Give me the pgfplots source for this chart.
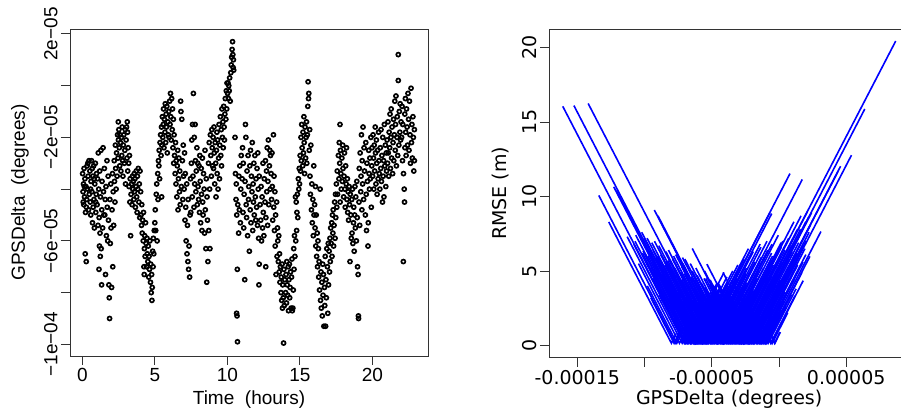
\documentclass[border=0pt]{standalone}
\usepackage{fontspec}
\setmainfont{Liberation Sans}
\newfontfamily\rfont{DejaVu Sans}
\usepackage{pgfplots}
\pgfplotsset{compat=1.18}
\begin{document}
\begin{tikzpicture}
\pgfplotsset{
  rbase/.style={
    scale only axis, anchor=south west,
    axis line style={black!80, line width=0.9pt},
    tick style={black!80, line width=0.9pt},
    tick align=outside, tick pos=left,
    major tick length=9pt,
  },
  vl/.style={blue, line width=1.6pt},
}
% left panel: GPSDelta (in 1e-05 degrees) over time
\begin{axis}[rbase, at={(70pt,58pt)}, width=358pt, height=327pt,
  xmin=-0.85, xmax=23.84, ymin=-10.45, ymax=2.19,
  xtick={0,5,10,15,20}, xticklabels={0,5,10,15,20},
  ytick={-10,-8,-6,-4,-2,0,2},
  yticklabels={−1e−04,,−6e−05,,−2e−05,,2e−05},
  tick label style={font=\fontsize{19}{22}\selectfont},
  yticklabel style={rotate=90, anchor=south},
  xlabel={Time\ \ (hours)}, ylabel={GPSDelta\ \ (degrees)},
  every axis x label/.style={at={(axis description cs:0.5,-0.1346)}, anchor=center, font=\fontsize{19}{22}\selectfont},
  every axis y label/.style={at={(axis description cs:-0.1397,0.5)}, anchor=center, rotate=90, font=\fontsize{19}{22}\selectfont},
]
\addplot[only marks, mark=o, mark size=2.0pt, mark options={line width=1.7pt}, black] coordinates {
(0.02,-3.4) (0.05,-4.1) (0.06,-4.5) (0.08,-3.8) (0.1,-4.6) (0.12,-3.2) (0.14,-3.9) (0.15,-4.3) (0.18,-3.6) (0.2,-6.5) (0.22,-4.9) (0.25,-3.9) (0.27,-6.8) (0.28,-4.7) (0.3,-4.4) (0.33,-3.1) (0.36,-4.0) (0.38,-3.0) (0.4,-3.5) (0.43,-4.8) (0.46,-2.9) (0.48,-4.2)
(0.52,-3.3) (0.55,-4.5) (0.57,-4.0) (0.58,-5.0) (0.6,-3.7) (0.63,-2.9) (0.66,-4.1) (0.69,-3.2) (0.7,-5.3) (0.72,-3.5) (0.75,-4.7) (0.78,-3.1) (0.8,-4.4) (0.81,-3.6) (0.83,-5.5) (0.86,-3.8) (0.9,-3.0) (0.92,-4.5) (0.93,-4.9) (0.96,-4.2) (0.98,-3.4)
(1.02,-4.6) (1.05,-3.6) (1.08,-5.4) (1.1,-2.6) (1.13,-4.0) (1.15,-7.1) (1.16,-5.1) (1.18,-6.2) (1.2,-3.3) (1.22,-5.7) (1.24,-6.6) (1.25,-4.3) (1.28,-2.5) (1.3,-6.3) (1.33,-7.7) (1.34,-4.8) (1.36,-3.7) (1.4,-5.5) (1.43,-2.4) (1.46,-4.1) (1.48,-5.0)
(1.52,-3.2) (1.55,-5.0) (1.58,-4.4) (1.6,-7.3) (1.63,-3.9) (1.66,-5.8) (1.7,-2.9) (1.72,-4.7) (1.75,-6.0) (1.78,-3.5) (1.8,-5.2) (1.83,-7.7) (1.86,-8.2) (1.88,-9.0) (1.9,-4.4) (1.93,-6.1) (1.96,-3.8) (1.98,-5.5)
(2.02,-7.8) (2.05,-4.8) (2.08,-3.4) (2.1,-7.0) (2.13,-4.1) (2.16,-5.4) (2.2,-2.9) (2.22,-3.7) (2.25,-4.5) (2.28,-2.3) (2.3,-3.2) (2.33,-4.0) (2.36,-2.6) (2.4,-3.5) (2.43,-1.9) (2.46,-2.8) (2.48,-1.4) (2.49,-2.1)
(2.52,-1.7) (2.55,-2.4) (2.58,-3.1) (2.6,-1.9) (2.63,-2.2) (2.66,-3.3) (2.7,-2.0) (2.72,-2.7) (2.75,-1.6) (2.78,-2.9) (2.8,-3.5) (2.83,-2.3) (2.86,-1.9) (2.9,-3.0) (2.93,-2.5) (2.96,-1.7) (2.98,-3.8)
(3.02,-2.1) (3.05,-1.6) (3.08,-2.8) (3.1,-1.4) (3.12,-1.8) (3.13,-3.3) (3.16,-2.4) (3.2,-3.0) (3.22,-3.9) (3.25,-2.7) (3.28,-4.5) (3.3,-3.6) (3.33,-5.8) (3.36,-4.2) (3.4,-3.8) (3.43,-4.6) (3.46,-3.5) (3.48,-4.0)
(3.52,-3.7) (3.55,-4.4) (3.58,-3.4) (3.6,-4.1) (3.63,-3.6) (3.66,-4.7) (3.7,-3.9) (3.72,-3.3) (3.75,-4.3) (3.78,-4.9) (3.8,-3.5) (3.83,-4.0) (3.86,-3.2) (3.9,-4.5) (3.93,-3.8) (3.96,-5.1) (3.98,-3.3)
(4.02,-4.1) (4.05,-5.0) (4.08,-5.4) (4.1,-4.6) (4.13,-5.7) (4.16,-5.2) (4.2,-6.0) (4.22,-4.9) (4.25,-7.0) (4.27,-7.3) (4.28,-6.3) (4.3,-5.8) (4.33,-6.6) (4.36,-5.3) (4.4,-6.1) (4.43,-7.0) (4.46,-5.9) (4.48,-6.5)
(4.52,-6.8) (4.55,-6.2) (4.58,-7.4) (4.6,-6.6) (4.63,-7.1) (4.66,-6.0) (4.7,-7.6) (4.72,-6.9) (4.75,-8.0) (4.78,-7.3) (4.8,-8.3) (4.82,-7.8) (4.85,-6.4) (4.88,-7.0) (4.9,-5.9) (4.93,-6.5) (4.96,-5.6)
(5.0,-5.3) (5.03,-4.8) (5.06,-5.6) (5.1,-4.2) (5.13,-3.8) (5.16,-6.0) (5.2,-3.4) (5.22,-4.4) (5.25,-2.9) (5.28,-3.1) (5.3,-2.5) (5.33,-3.6) (5.36,-2.2) (5.4,-1.9) (5.43,-2.7) (5.46,-1.6) (5.47,-4.3) (5.48,-2.3)
(5.52,-1.2) (5.55,-2.0) (5.58,-1.5) (5.6,-0.9) (5.63,-2.4) (5.66,-1.3) (5.7,-1.8) (5.72,-0.7) (5.75,-2.2) (5.78,-1.1) (5.8,-1.6) (5.83,-0.8) (5.86,-2.6) (5.9,-1.4) (5.93,-1.9) (5.96,-1.0) (5.98,-2.0)
(6.02,-0.6) (6.05,-1.5) (6.08,-0.3) (6.1,-1.2) (6.13,-2.1) (6.16,-0.5) (6.2,-1.7) (6.22,-0.9) (6.25,-2.4) (6.28,-1.3) (6.3,-3.0) (6.33,-1.9) (6.36,-2.7) (6.4,-3.4) (6.43,-2.2) (6.46,-3.8) (6.48,-2.9)
(6.52,-4.3) (6.55,-3.1) (6.58,-2.5) (6.6,-4.8) (6.63,-3.6) (6.66,-2.8) (6.7,-4.1) (6.72,-3.3) (6.75,-4.6) (6.78,-0.6) (6.8,-1.0) (6.83,-3.9) (6.86,-1.3) (6.9,-2.9) (6.93,-4.4) (6.96,-2.3) (6.98,-3.5)
(7.02,-4.0) (7.05,-2.6) (7.08,-5.2) (7.1,-3.4) (7.13,-4.7) (7.16,-6.0) (7.2,-3.8) (7.22,-6.5) (7.25,-5.4) (7.28,-6.8) (7.3,-4.4) (7.33,-7.1) (7.36,-6.2) (7.4,-7.4) (7.43,-5.0) (7.46,-3.6) (7.48,-4.9)
(7.52,-3.0) (7.55,-2.1) (7.58,-4.3) (7.6,-1.5) (7.63,-3.5) (7.66,-0.3) (7.7,-4.7) (7.72,-2.0) (7.75,-3.8) (7.78,-1.5) (7.8,-2.9) (7.83,-4.1) (7.86,-3.3) (7.9,-2.4) (7.93,-4.6) (7.96,-3.0) (7.98,-3.9)
(8.02,-4.4) (8.05,-3.1) (8.08,-4.9) (8.1,-2.7) (8.13,-3.7) (8.16,-5.3) (8.2,-3.2) (8.22,-4.2) (8.25,-5.6) (8.28,-2.8) (8.3,-4.5) (8.33,-5.0) (8.36,-3.4) (8.4,-4.0) (8.43,-5.7) (8.46,-2.5) (8.48,-4.8)
(8.52,-6.3) (8.55,-3.6) (8.58,-7.6) (8.6,-4.3) (8.63,-5.2) (8.66,-6.8) (8.7,-3.0) (8.72,-5.6) (8.75,-2.2) (8.78,-4.0) (8.8,-6.3) (8.83,-1.9) (8.86,-2.7) (8.9,-3.5) (8.93,-1.7) (8.96,-2.4) (8.98,-3.1)
(9.02,-2.0) (9.05,-3.2) (9.08,-1.6) (9.1,-2.6) (9.13,-3.8) (9.16,-2.2) (9.2,-3.0) (9.22,-4.3) (9.25,-2.5) (9.28,-1.8) (9.3,-3.4) (9.33,-2.1) (9.36,-4.0) (9.4,-2.8) (9.43,-1.5) (9.46,-3.6) (9.48,-2.3)
(9.52,-1.2) (9.55,-2.7) (9.58,-1.7) (9.6,-3.1) (9.63,-0.9) (9.66,-2.0) (9.7,-1.4) (9.72,-2.4) (9.75,-0.8) (9.78,-1.6) (9.8,-2.1) (9.83,-1.1) (9.86,-0.5) (9.9,-1.3) (9.93,-0.2) (9.96,-0.9) (9.98,0.1)
(10.02,-0.3) (10.05,0.1) (10.08,-0.5) (10.1,0.0) (10.13,-0.2) (10.16,0.3) (10.2,-0.6) (10.24,0.5) (10.27,0.8) (10.3,1.1) (10.33,1.4) (10.36,1.7) (10.38,1.2) (10.4,0.7) (10.42,1.0) (10.44,0.6)
(10.53,-2.0) (10.56,-3.4) (10.6,-4.4) (10.62,-3.8) (10.64,-8.8) (10.65,-5.0) (10.67,-8.9) (10.69,-7.1) (10.7,-9.9) (10.72,-4.6) (10.78,-5.7) (10.8,-3.5) (10.83,-4.8) (10.86,-3.1) (10.9,-5.3) (10.93,-4.0) (10.96,-2.7)
(11.02,-3.6) (11.05,-2.4) (11.08,-4.9) (11.1,-3.0) (11.13,-5.5) (11.16,-4.2) (11.2,-7.5) (11.22,-3.7) (11.25,-1.5) (11.28,-2.0) (11.3,-4.6) (11.33,-5.1) (11.36,-3.3) (11.4,-5.8) (11.43,-2.7) (11.46,-4.4) (11.48,-3.9)
(11.52,-6.4) (11.55,-3.1) (11.58,-4.8) (11.6,-2.5) (11.63,-5.3) (11.66,-3.5) (11.7,-4.1) (11.72,-2.2) (11.75,-5.6) (11.78,-3.8) (11.8,-4.5) (11.83,-3.0) (11.86,-5.0) (11.9,-2.7) (11.93,-4.3) (11.96,-5.2) (11.98,-3.6)
(12.02,-4.7) (12.05,-3.2) (12.08,-5.4) (12.1,-2.6) (12.13,-4.0) (12.16,-5.9) (12.18,-7.7) (12.2,-3.5) (12.2,-6.9) (12.26,-4.6) (12.3,-5.2) (12.33,-3.9) (12.36,-6.0) (12.4,-4.3) (12.43,-5.5) (12.46,-3.0) (12.48,-4.9)
(12.52,-5.8) (12.55,-3.6) (12.6,-4.5) (12.63,-2.9) (12.65,-7.0) (12.66,-5.1) (12.7,-3.3) (12.72,-4.1) (12.75,-2.4) (12.78,-5.4) (12.8,-3.7) (12.83,-2.1) (12.86,-4.6) (12.9,-3.1) (12.93,-2.5) (12.96,-4.0) (12.98,-2.7)
(13.02,-3.4) (13.05,-4.4) (13.08,-2.6) (13.1,-3.9) (13.13,-5.2) (13.18,-1.9) (13.2,-4.7) (13.22,-3.5) (13.25,-5.6) (13.28,-4.1) (13.3,-6.2) (13.33,-5.0) (13.36,-7.3) (13.4,-4.5) (13.43,-6.6) (13.46,-5.5) (13.48,-6.0)
(13.52,-6.8) (13.55,-5.8) (13.58,-7.2) (13.6,-6.5) (13.63,-7.6) (13.66,-7.0) (13.7,-8.0) (13.72,-7.4) (13.75,-8.3) (13.78,-6.9) (13.8,-8.6) (13.82,-7.7) (13.88,-9.95) (13.86,-8.2) (13.9,-7.1) (13.93,-8.5) (13.96,-7.5)
(14.02,-8.0) (14.05,-7.3) (14.08,-8.4) (14.1,-6.8) (14.13,-7.7) (14.16,-8.1) (14.2,-7.0) (14.22,-8.7) (14.25,-7.5) (14.28,-6.9) (14.3,-8.2) (14.33,-7.8) (14.36,-7.2) (14.4,-8.6) (14.43,-7.4) (14.46,-6.7) (14.48,-8.7)
(14.52,-8.6) (14.55,-7.9) (14.58,-6.3) (14.6,-7.1) (14.63,-5.8) (14.66,-6.6) (14.7,-4.3) (14.72,-6.0) (14.75,-4.5) (14.78,-5.6) (14.8,-4.9) (14.83,-4.2) (14.86,-5.1) (14.9,-3.6) (14.93,-4.0) (14.96,-3.2) (14.98,-3.8)
(15.02,-2.7) (15.05,-3.3) (15.08,-2.0) (15.1,-2.9) (15.13,-1.5) (15.16,-2.4) (15.2,-3.1) (15.22,-1.8) (15.25,-2.6) (15.28,-1.2) (15.3,-2.2) (15.33,-3.4) (15.36,-1.6) (15.4,-2.8) (15.43,-2.0) (15.46,-1.4) (15.48,-3.0)
(15.52,-1.9) (15.55,-0.8) (15.57,0.15) (15.6,-0.5) (15.62,-0.3) (15.65,-2.5) (15.68,-1.7) (15.7,-3.5) (15.73,-4.2) (15.76,-2.3) (15.8,-4.8) (15.83,-3.8) (15.86,-5.3) (15.9,-4.4) (15.93,-5.8) (15.96,-3.1) (15.98,-5.0)
(16.02,-4.6) (16.05,-5.5) (16.08,-3.9) (16.1,-6.2) (16.13,-5.0) (16.16,-6.6) (16.2,-5.7) (16.22,-7.0) (16.25,-6.0) (16.28,-6.3) (16.3,-7.4) (16.33,-6.8) (16.36,-7.9) (16.4,-4.0) (16.43,-8.3) (16.46,-7.2) (16.48,-8.6)
(16.52,-7.6) (16.55,-8.9) (16.58,-6.9) (16.6,-8.1) (16.63,-7.3) (16.66,-9.3) (16.7,-7.8) (16.72,-8.5) (16.75,-6.6) (16.78,-9.3) (16.8,-7.5) (16.83,-8.2) (16.86,-6.3) (16.9,-7.0) (16.93,-8.8) (16.96,-6.1) (16.98,-7.7)
(17.02,-6.4) (17.05,-7.2) (17.08,-5.9) (17.1,-6.8) (17.13,-5.5) (17.16,-6.1) (17.2,-5.3) (17.22,-6.6) (17.25,-5.0) (17.28,-5.7) (17.3,-4.8) (17.33,-6.2) (17.36,-5.4) (17.4,-4.5) (17.43,-5.9) (17.46,-4.2) (17.48,-5.1)
(17.52,-3.8) (17.55,-4.7) (17.58,-3.3) (17.6,-4.2) (17.77,-1.5) (17.66,-2.7) (17.7,-3.6) (17.72,-2.2) (17.75,-3.0) (17.78,-4.5) (17.8,-2.5) (17.83,-3.4) (17.86,-4.0) (17.9,-2.8) (17.93,-3.7) (17.96,-2.3) (17.98,-3.2)
(18.02,-4.3) (18.05,-3.5) (18.08,-2.6) (18.1,-4.0) (18.13,-4.7) (18.16,-3.1) (18.2,-3.8) (18.22,-2.4) (18.25,-4.4) (18.28,-3.6) (18.3,-4.9) (18.33,-4.1) (18.36,-5.2) (18.4,-3.9) (18.43,-4.6) (18.46,-6.8) (18.48,-4.2)
(18.52,-5.0) (18.55,-5.9) (18.58,-4.4) (18.6,-5.7) (18.63,-4.0) (18.66,-6.1) (18.7,-5.3) (18.72,-4.7) (18.75,-6.4) (18.78,-5.0) (18.8,-3.9) (18.83,-5.5) (18.86,-4.3) (18.9,-6.0) (18.93,-3.7) (18.96,-5.1) (18.98,-7.0)
(19.02,-7.3) (19.04,-8.9) (19.05,-9.0) (19.08,-4.5) (19.1,-3.2) (19.13,-5.4) (19.16,-2.6) (19.2,-4.1) (19.22,-3.5) (19.25,-1.9) (19.28,-4.8) (19.3,-2.9) (19.33,-3.8) (19.36,-1.6) (19.4,-4.4) (19.43,-2.4) (19.46,-3.3)
(19.52,-5.0) (19.55,-2.2) (19.58,-4.2) (19.6,-5.6) (19.63,-3.0) (19.7,-6.2) (19.66,-3.7) (19.72,-5.3) (19.75,-2.5) (19.78,-3.4) (19.8,-4.0) (19.83,-2.8) (19.86,-3.6) (19.9,-2.0) (19.93,-4.7) (19.96,-3.1) (19.98,-2.4)
(20.02,-3.5) (20.05,-1.9) (20.08,-2.8) (20.1,-4.0) (20.13,-2.3) (20.16,-3.3) (20.2,-1.6) (20.22,-2.6) (20.25,-3.8) (20.28,-2.1) (20.3,-3.0) (20.33,-4.2) (20.36,-2.5) (20.4,-3.6) (20.43,-1.8) (20.46,-2.9) (20.48,-3.4)
(20.52,-4.0) (20.55,-2.4) (20.58,-3.2) (20.6,-1.7) (20.63,-3.7) (20.66,-2.7) (20.7,-4.5) (20.72,-2.0) (20.75,-3.5) (20.78,-2.9) (20.8,-4.3) (20.83,-1.5) (20.86,-3.1) (20.9,-2.3) (20.93,-3.9) (20.96,-2.6) (20.98,-3.3)
(21.02,-2.1) (21.05,-3.0) (21.08,-1.4) (21.1,-2.6) (21.13,-3.5) (21.16,-1.8) (21.2,-2.4) (21.22,-1.1) (21.25,-3.2) (21.28,-2.0) (21.3,-0.9) (21.33,-2.8) (21.36,-1.6) (21.4,-3.4) (21.43,-2.2) (21.46,-1.3) (21.48,-2.9)
(21.52,-1.9) (21.55,-0.6) (21.58,-2.5) (21.6,-1.5) (21.63,-0.4) (21.66,-3.1) (21.7,-2.0) (21.72,-1.2) (21.75,-2.7) (21.79,1.2) (21.79,0.2) (21.83,-2.3) (21.86,-1.0) (21.9,-1.8) (21.92,-0.7) (21.95,-2.1) (21.98,-1.4)
(22.02,-2.0) (22.05,-0.8) (22.08,-2.9) (22.1,-1.5) (22.14,-6.8) (22.15,-3.4) (22.2,-4.0) (22.22,-4.5) (22.24,-1.1) (22.25,-2.4) (22.28,-0.5) (22.3,-1.8) (22.33,-2.7) (22.36,-0.9) (22.4,-1.6) (22.43,-2.3) (22.46,-0.3)
(22.5,-1.3) (22.53,-2.5) (22.56,-0.6) (22.6,-1.9) (22.63,-3.0) (22.67,-0.1) (22.7,-2.2) (22.73,-1.5) (22.76,-2.8) (22.8,-1.2) (22.83,-2.0) (22.86,-3.3) (22.9,-1.7) (22.9,-2.9)
};
\end{axis}
% right panel: RMSE curves against GPSDelta (in 1e-05 degrees)
\begin{axis}[rbase, at={(549.3pt,56.3pt)}, width=359.7pt, height=328.7pt,
  xmin=-17.08, xmax=9.67, ymin=-0.82, ymax=21.24,
  xtick={-15,-10,-5,0,5}, xticklabels={-0.00015,,-0.00005,,0.00005},
  ytick={0,5,10,15,20}, yticklabels={0,5,10,15,20},
  tick label style={font=\rfont\fontsize{19}{22}\selectfont},
  yticklabel style={rotate=90, anchor=south},
  xlabel={GPSDelta (degrees)}, ylabel={RMSE (m)},
  every axis x label/.style={at={(axis description cs:0.5,-0.1278)}, anchor=center, font=\rfont\fontsize{19}{22}\selectfont},
  every axis y label/.style={at={(axis description cs:-0.1362,0.5)}, anchor=center, rotate=90, font=\rfont\fontsize{19}{22}\selectfont},
]
\addplot[vl] coordinates {(-16.08,16.05) (-6.95,0.15) (-5.34,3.0)};
\addplot[vl] coordinates {(-15.25,16.1) (-6.1,0.15) (-4.78,2.5)};
\addplot[vl] coordinates {(-14.19,16.24) (-4.96,0.15) (-3.92,2.0)};
\addplot[vl] coordinates {(-13.40,10.07) (-7.72,0.15) (-7.14,1.2)};
\addplot[vl] coordinates {(-12.66,8.29) (-8.0,0.15) (-7.65,0.8)};
\addplot[vl] coordinates {(-12.29,10.65) (-6.27,0.15) (-5.12,2.2)};
\addplot[vl] coordinates {(-12.1,10.4) (-6.23,0.15) (-4.62,3.0)};
\addplot[vl] coordinates {(-11.85,10.0) (-6.21,0.15) (-5.29,1.8)};
\addplot[vl] coordinates {(-10.11,6.35) (-6.57,0.15) (-5.82,1.5)};
\addplot[vl] coordinates {(-9.27,9.09) (-4.15,0.15) (-2.25,3.5)};
\addplot[vl] coordinates {(-9.0,8.7) (-4.11,0.15) (-2.79,2.5)};
\addplot[vl] coordinates {(-8.8,8.3) (-4.14,0.15) (-1.95,4.0)};
\addplot[vl] coordinates {(-6.45,6.51) (-2.82,0.15) (-1.21,3.0)};
\addplot[vl] coordinates {(-5.36,5.46) (-2.33,0.15) (-1.01,2.5)};
\addplot[vl] coordinates {(-5.45,4.5) (-2.97,0.15) (8.68,20.43)};
\addplot[vl] coordinates {(-4.54,3.5) (-2.64,0.15) (6.38,15.87)};
\addplot[vl] coordinates {(-3.46,3.0) (-1.85,0.15) (5.39,12.77)};
\addplot[vl] coordinates {(-4.53,4.2) (-2.23,0.15) (4.58,12.03)};
\addplot[vl] coordinates {(-3.83,3.0) (-2.22,0.15) (4.4,11.7)};
\addplot[vl] coordinates {(-2.49,2.5) (-1.17,0.15) (3.12,7.65)};
\addplot[vl] coordinates {(-7.61,3.5) (-5.71,0.15) (0.82,11.54)};
\addplot[vl] coordinates {(-6.76,4.0) (-4.57,0.15) (1.73,11.14)};
\addplot[vl] coordinates {(-7.13,3.0) (-5.52,0.15) (-0.54,8.85)};
\addplot[vl] coordinates {(-2.07,2.0) (-1.03,0.15) (2.3,5.98)};
\addplot[vl] coordinates {(-1.34,1.5) (-0.59,0.15) (1.8,4.35)};
\addplot[vl] coordinates {(-4.78,4.0) (-2.59,0.15) (2.43,8.92)};
\addplot[vl] coordinates {(-4.54,3.5) (-2.64,0.15) (2.2,8.6)};
\addplot[vl] coordinates {(-4.1,2.8) (-2.66,0.15) (2.0,8.3)};
\addplot[vl] coordinates {(-5.54,5.0) (-2.78,0.15) (1.6,7.8)};
\addplot[vl] coordinates {(-7.3,3.0) (-5.69,0.15) (-0.67,8.92)};
\addplot[vl] coordinates {(-1.2,1.2) (-0.62,0.15) (1.19,3.34)};
\addplot[vl] coordinates {(-0.65,0.8) (-0.33,0.15) (0.07,0.9)};
\addplot[vl] coordinates {(-10.45,5.5) (-7.4,0.15) (-6.36,2.0)};
\addplot[vl] coordinates {(-11.29,7.3) (-7.2,0.15) (-5.88,2.5)};
\addplot[vl] coordinates {(-10.80,6.8) (-7.0,0.15) (-5.39,3.0)};
\addplot[vl] coordinates {(-9.38,4.5) (-6.9,0.15) (-4.6,4.2)};
\addplot[vl] coordinates {(-10.71,7.0) (-6.8,0.15) (-4.09,4.9)};
\addplot[vl] coordinates {(-10.15,6.2) (-6.7,0.15) (-4.8,3.5)};
\addplot[vl] coordinates {(-9.48,5.2) (-6.6,0.15) (-5.1,2.8)};
\addplot[vl] coordinates {(-10.65,7.4) (-6.5,0.15) (-4.43,3.8)};
\addplot[vl] coordinates {(-9.74,6.0) (-6.4,0.15) (-3.87,4.6)};
\addplot[vl] coordinates {(-9.41,5.6) (-6.3,0.15) (-5.15,2.2)};
\addplot[vl] coordinates {(-9.88,6.6) (-6.2,0.15) (-3.44,5.0)};
\addplot[vl] coordinates {(-8.75,4.8) (-6.1,0.15) (-4.37,3.2)};
\addplot[vl] coordinates {(-10.03,7.2) (-6.0,0.15) (-3.81,4.0)};
\addplot[vl] coordinates {(-9.18,5.9) (-5.9,0.15) (-2.27,6.5)};
\addplot[vl] coordinates {(-9.37,6.4) (-5.8,0.15) (-3.84,3.6)};
\addplot[vl] coordinates {(-8.46,5.0) (-5.7,0.15) (-2.65,5.5)};
\addplot[vl] coordinates {(-9.46,6.9) (-5.6,0.15) (-3.18,4.4)};
\addplot[vl] coordinates {(-8.49,5.4) (-5.5,0.15) (-2.16,6.0)};
\addplot[vl] coordinates {(-8.8,6.1) (-5.4,0.15) (-3.79,3.0)};
\addplot[vl] coordinates {(-7.83,4.6) (-5.3,0.15) (-2.42,5.2)};
\addplot[vl] coordinates {(-8.94,6.7) (-5.2,0.15) (-1.4,6.8)};
\addplot[vl] coordinates {(-8.27,5.7) (-5.1,0.15) (-2.45,4.8)};
\addplot[vl] coordinates {(-7.82,5.1) (-5.0,0.15) (-2.87,3.9)};
\addplot[vl] coordinates {(-8.41,6.3) (-4.9,0.15) (-1.79,5.6)};
\addplot[vl] coordinates {(-7.22,4.4) (-4.8,0.15) (-0.89,7.0)};
\addplot[vl] coordinates {(-7.92,5.8) (-4.7,0.15) (-2.4,4.2)};
\addplot[vl] coordinates {(-7.31,4.9) (-4.6,0.15) (-1.32,5.9)};
\addplot[vl] coordinates {(-7.84,6.0) (-4.5,0.15) (-2.66,3.4)};
\addplot[vl] coordinates {(-6.7,4.2) (-4.4,0.15) (-0.83,6.4)};
\addplot[vl] coordinates {(-7.24,5.3) (-4.3,0.15) (-1.54,5.0)};
\addplot[vl] coordinates {(-6.27,3.8) (-4.2,0.15) (-0.05,7.4)};
\addplot[vl] coordinates {(-7.15,5.5) (-4.1,0.15) (-1.62,4.5)};
\addplot[vl] coordinates {(-6.53,4.6) (-4.0,0.15) (-0.55,6.2)};
\addplot[vl] coordinates {(-7.18,5.9) (-3.9,0.15) (-1.89,3.7)};
\addplot[vl] coordinates {(-5.99,4.0) (-3.8,0.15) (-0.63,5.7)};
\addplot[vl] coordinates {(-6.46,5.0) (-3.7,0.15) (0.16,6.9)};
\addplot[vl] coordinates {(-5.5,3.5) (-3.6,0.15) (-0.89,4.9)};
\addplot[vl] coordinates {(-6.09,4.7) (-3.5,0.15) (0.18,6.6)};
\addplot[vl] coordinates {(-5.53,3.9) (-3.4,0.15) (-0.41,5.4)};
\addplot[vl] coordinates {(-6.18,5.2) (-3.3,0.15) (0.73,7.2)};
\addplot[vl] coordinates {(-4.93,3.2) (-3.2,0.15) (0.14,6.0)};
\addplot[vl] coordinates {(-5.58,4.5) (-3.1,0.15) (-0.57,4.6)};
\addplot[vl] coordinates {(-4.96,3.6) (-3.0,0.15) (1.38,7.8)};
\addplot[vl] coordinates {(-5.15,4.1) (-2.9,0.15) (0.04,5.3)};
\addplot[vl] coordinates {(-4.41,3.0) (-2.8,0.15) (0.94,6.7)};
\addplot[vl] coordinates {(-5.12,4.4) (-2.7,0.15) (-0.05,4.8)};
\addplot[vl] coordinates {(-4.38,3.3) (-2.6,0.15) (1.6,7.5)};
\addplot[vl] coordinates {(-4.0,2.8) (-2.5,0.15) (0.72,5.8)};
\addplot[vl] coordinates {(-4.41,3.7) (-2.4,0.15) (1.46,6.9)};
\addplot[vl] coordinates {(-3.68,2.6) (-2.3,0.15) (0.12,4.4)};
\addplot[vl] coordinates {(-4.04,3.4) (-2.2,0.15) (2.35,8.1)};
\addplot[vl] coordinates {(-3.37,2.4) (-2.1,0.15) (1.35,6.2)};
\addplot[vl] coordinates {(-3.67,3.1) (-2.0,0.15) (0.82,5.1)};
\addplot[vl] coordinates {(-3.05,2.2) (-1.9,0.15) (2.01,7.0)};
\addplot[vl] coordinates {(-3.35,2.9) (-1.8,0.15) (0.39,4.0)};
\addplot[vl] coordinates {(-2.74,2.0) (-1.7,0.15) (1.93,6.5)};
\addplot[vl] coordinates {(-2.98,2.6) (-1.6,0.15) (1.39,5.4)};
\addplot[vl] coordinates {(-2.42,1.8) (-1.5,0.15) (0.46,3.6)};
\addplot[vl] coordinates {(-2.61,2.3) (-1.4,0.15) (2.0,6.1)};
\addplot[vl] coordinates {(-2.11,1.6) (-1.3,0.15) (1.18,4.5)};
\addplot[vl] coordinates {(-2.29,2.1) (-1.2,0.15) (0.41,3.0)};
\addplot[vl] coordinates {(-1.75,1.5) (-1.0,0.15) (1.71,4.9)};
\addplot[vl] coordinates {(-1.88,1.9) (-0.9,0.15) (0.48,2.6)};
\addplot[vl] coordinates {(-1.38,1.2) (-0.8,0.15) (1.27,3.8)};
\addplot[vl] coordinates {(-0.96,1.0) (-0.5,0.15) (0.65,2.2)};
\addplot[vl] coordinates {(-0.65,0.8) (-0.3,0.15) (0.1,0.9)};
\addplot[vl] coordinates {(-9.79,4.0) (-7.6,0.15) (-6.85,1.5)};
\addplot[vl] coordinates {(-9.53,3.2) (-7.8,0.15) (-7.34,1.0)};
\addplot[vl] coordinates {(-10.21,7.6) (-5.95,0.15) (-4.57,2.6)};
\addplot[vl] coordinates {(-9.26,7.0) (-5.35,0.15) (-3.57,3.3)};
\addplot[vl] coordinates {(-8.22,6.4) (-4.65,0.15) (-2.46,4.0)};
\addplot[vl] coordinates {(-8.24,4.0) (-6.05,0.15) (-3.06,5.4)};
\addplot[vl] coordinates {(-6.6,5.5) (-3.55,0.15) (1.11,8.3)};
\addplot[vl] coordinates {(-4.75,2.8) (-3.25,0.15) (1.64,8.7)};
\addplot[vl] coordinates {(-4.27,2.5) (-2.95,0.15) (2.12,9.0)};
\addplot[vl] coordinates {(-4.16,4.9) (-1.45,0.15) (0.16,3.0)};
\addplot[vl] coordinates {(-3.46,4.3) (-1.1,0.15) (0.17,2.4)};
\addplot[vl] coordinates {(-9.14,5.0) (-6.35,0.15) (-4.71,3.0)};
\addplot[vl] coordinates {(-9.69,6.3) (-6.15,0.15) (-3.82,4.2)};
\addplot[vl] coordinates {(-8.30,4.4) (-5.85,0.15) (-2.60,5.8)};
\addplot[vl] coordinates {(-9.02,6.0) (-5.65,0.15) (-3.15,4.5)};
\addplot[vl] coordinates {(-7.55,3.8) (-5.45,0.15) (-1.91,6.3)};
\addplot[vl] coordinates {(-8.39,5.6) (-5.25,0.15) (-2.46,5.0)};
\addplot[vl] coordinates {(-7.38,4.2) (-5.05,0.15) (-1.34,6.6)};
\addplot[vl] coordinates {(-7.76,5.2) (-4.85,0.15) (-2.63,4.0)};
\addplot[vl] coordinates {(-6.54,3.6) (-4.55,0.15) (-1.41,5.6)};
\addplot[vl] coordinates {(-7.03,4.8) (-4.35,0.15) (-0.52,6.8)};
\addplot[vl] coordinates {(-5.92,3.4) (-4.05,0.15) (-1.14,5.2)};
\addplot[vl] coordinates {(-6.30,4.4) (-3.85,0.15) (-0.48,6.0)};
\addplot[vl] coordinates {(-5.29,3.0) (-3.65,0.15) (0.29,7.0)};
\addplot[vl] coordinates {(-5.78,4.2) (-3.45,0.15) (-0.66,5.0)};
\addplot[vl] coordinates {(-5.02,3.4) (-3.15,0.15) (0.45,6.4)};
\addplot[vl] coordinates {(-4.61,3.2) (-2.85,0.15) (0.29,5.6)};
\addplot[vl] coordinates {(-3.96,2.6) (-2.55,0.15) (0.99,6.3)};
\addplot[vl] coordinates {(-3.83,2.9) (-2.25,0.15) (0.71,5.3)};
\addplot[vl] coordinates {(-3.25,2.4) (-1.95,0.15) (1.82,6.7)};
\addplot[vl] coordinates {(-2.72,2.0) (-1.65,0.15) (0.91,4.6)};
\addplot[vl] coordinates {(-2.30,1.8) (-1.35,0.15) (1.79,5.6)};
\addplot[vl] coordinates {(-8.54,3.6) (-6.55,0.15) (-4.33,4.0)};
\addplot[vl] coordinates {(-9.43,4.8) (-6.75,0.15) (-5.45,2.4)};
\addplot[vl] coordinates {(-8.92,3.4) (-7.05,0.15) (-5.06,3.6)};
\addplot[vl] coordinates {(-9.81,7.2) (-5.75,0.15) (-3.65,3.8)};
\addplot[vl] coordinates {(-7.68,6.1) (-4.25,0.15) (-2.49,3.2)};
\addplot[vl] coordinates {(-7.0,5.8) (-3.75,0.15) (-1.30,4.4)};
\addplot[vl] coordinates {(-4.15,3.8) (-2.05,0.15) (2.24,7.6)};
\addplot[vl] coordinates {(-3.49,3.0) (-1.85,0.15) (1.46,5.9)};
\addplot[vl] coordinates {(-1.67,1.4) (-0.95,0.15) (0.92,3.4)};
\end{axis}
\pgfresetboundingbox
\path (0,0) rectangle (901pt,414pt);
\end{tikzpicture}
\end{document}
